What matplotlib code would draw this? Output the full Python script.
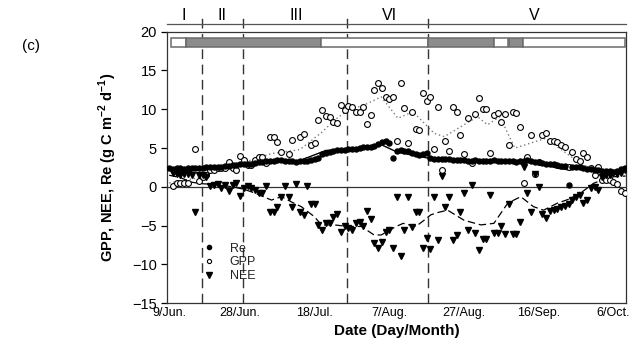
import numpy as np
import matplotlib
matplotlib.use('Agg')
import matplotlib.pyplot as plt
from matplotlib.lines import Line2D

plt.rcParams['font.family'] = ['Liberation Sans', 'DejaVu Sans']
plt.rcParams['mathtext.fontset'] = 'custom'
plt.rcParams['mathtext.rm'] = 'Liberation Sans'
plt.rcParams['mathtext.bf'] = 'Liberation Sans:bold'

nan = np.nan
# daily values, day 0 = 9 June
re_obs = [2.4, 2.3, 2.4, 2.4, 2.35, 2.4, 2.4, 2.45, 2.4, 2.45,
          2.5, 2.5, 2.55, 2.6, 2.6, 2.7, 2.75, 2.8, 2.85, 2.9,
          3.0, 2.95, 3.0, 3.1, 3.2, 3.15, 3.3, 3.3, 3.4, 3.45,
          3.5, 3.4, 3.35, 3.3, 3.25, 3.4, 3.3, 3.4, 3.5, 3.6,
          3.7, 4.3, 4.4, 4.5, 4.6, 4.7, 4.75, 4.8, 4.85, 4.9,
          4.9, 5.0, 5.1, 5.1, 5.2, 5.3, 5.5, 5.75, 5.85, 5.7,
          3.7, 4.6, 4.7, 4.65, 4.6, 4.4, 4.3, 4.15, 4.2, 4.4,
          3.7, 3.65, 3.6, 3.6, 3.55, 3.55, 3.5, 3.5, 3.5, 3.45,
          3.4, 3.4, 3.45, 3.4, 3.4, 3.35, 3.4, 3.45, 3.4, 3.4,
          3.35, 3.3, 3.3, 3.25, 3.3, 3.4, 3.45, 3.3, 3.2, 3.15,
          3.1, 3.0, 2.95, 2.9, 2.8, 2.7, 2.7, 0.25, 2.6, 2.55,
          2.5, 2.45, 2.35, 2.3, 2.2, 2.2, 2.1, 2.05, 2.0, 1.95,
          2.1, 2.3, 2.4]

gpp_obs = [nan, 0.1, 0.45, 0.5, 0.5, 0.55, nan, 4.85, 0.8, 1.3,
           1.5, 2.2, 2.2, 2.4, 2.4, 2.4, 3.25, 2.4, 2.2, 4.0,
           3.47, 2.8, 2.8, 3.47, 3.9, 3.9, 3.04, 6.47, 6.4, 5.8,
           4.5, nan, 4.3, 6.0, nan, 6.4, 6.8, 3.5, 5.4, 5.6,
           8.6, 9.9, 9.1, 9.05, 8.4, 8.2, 10.55, 9.9, 10.4, 10.3,
           9.7, 9.7, 10.3, 8.1, 9.3, 12.5, 13.35, 12.8, 11.6, 11.3,
           11.6, 5.95, 13.35, 10.2, 5.7, 9.6, 7.46, 7.3, 12.1, 11.1,
           11.6, 4.85, 10.3, 2.2, 5.95, 4.67, 10.3, 9.7, 6.7, 4.2,
           8.84, 3.1, 9.4, 11.45, 10.1, 10.0, 4.33, 9.27, 9.5, 8.3,
           9.4, 5.4, 9.7, 9.5, 7.76, 0.55, 3.8, 6.7, 1.7, 3.2,
           6.7, 6.9, 5.95, 5.9, 5.8, 5.35, 5.1, 2.6, 4.5, 3.55,
           3.4, 4.4, 3.9, 2.4, 1.53, 2.6, 0.9, 0.9, 0.9, 0.67,
           0.37, -0.53, -0.75]

nee_obs = [nan, 1.75, 1.6, 1.5, 1.7, 1.65, 1.5, -3.3, 1.5, 1.5,
           1.3, 0.1, 0.25, 0.37, -0.2, 0.25, -0.5, 0.25, 0.46, -1.2,
           -0.2, 0.1, -0.2, -0.4, -0.75, -0.75, 0.1, -3.3, -3.2, -2.55,
           -1.26, 0.1, -1.26, -2.55, 0.37, -3.2, -3.6, 0.1, -2.2, -2.2,
           -4.9, -5.6, -4.7, -4.7, -3.84, -3.5, -5.8, -5.1, -5.3, -5.55,
           -4.7, -4.5, -5.1, -3.07, -4.2, -7.2, -7.9, -7.06, -5.8, -5.55,
           -7.9, -1.26, -8.9, -5.6, -1.26, -5.2, -3.3, -3.3, -7.9, -6.6,
           -8.04, -1.26, -6.84, 1.45, -2.55, -1.26, -6.84, -6.2, -3.3, -0.8,
           -5.5, 0.25, -6.0, -8.1, -6.75, -6.7, -1.04, -5.9, -5.95, -5.04,
           -6.07, -2.2, -6.07, -6.07, -4.5, 2.6, -0.75, -3.3, 1.66, 0.0,
           -3.5, -4.05, -3.07, -3.0, -2.8, -2.55, -2.4, -2.2, -1.7, -1.26,
           -1.04, -2.1, -1.7, -0.2, 0.0, -0.4, 1.3, 1.53, 1.53, 1.75,
           1.6, 1.75, 2.18]

days = np.arange(len(re_obs))

# modelled curves
re_mod_day = [0, 5, 10, 15, 20, 25, 30, 34.5, 42, 46, 50, 54, 57, 61, 65, 69.5,
              75, 80, 85, 90, 95, 99, 101, 104, 107, 108.5, 112, 116, 120, 122.3]
re_mod = [2.35, 2.4, 2.5, 2.7, 2.95, 3.2, 3.4, 3.3, 4.7, 4.75, 4.9, 5.1, 5.4, 4.5, 4.1, 3.7,
          3.55, 3.45, 3.4, 3.35, 3.3, 3.1, 2.8, 2.4, 2.2, 2.55, 2.35, 2.15, 1.95, 2.0]

gpp_mod_day = [0, 8, 14, 18, 22, 27.5, 35, 40.8, 44.3, 47.9, 52, 56.8, 61.3, 65.3,
               71, 73.7, 82.6, 85.3, 88.6, 92.6, 100.9, 108.9, 114.2, 122.2]
gpp_mod = [0.5, 1.2, 2.3, 2.8, 3.47, 4.3, 4.8, 7.0, 8.6, 9.9, 10.5, 11.6, 8.84, 9.7,
           6.9, 6.47, 9.05, 8.0, 9.05, 5.0, 6.26, 3.47, 2.0, -0.8]

nee_mod_day = [0, 3, 6, 9, 13, 17, 20, 23, 27.4, 30.1, 33, 35.4, 38.9, 40.8, 44.3, 47.9,
               51.5, 54.9, 56.8, 60.8, 62.7, 66.1, 68.3, 70.1, 72, 74.6, 79, 83.5, 87,
               90.7, 94.2, 97.6, 100.3, 104, 107, 110.2, 113.7, 116, 119, 122.3]
nee_mod = [1.5, 1.2, 0.6, 0.4, 0.3, 0.0, -0.3, -0.8, -1.7, -1.26, -2.0, -2.55, -3.84, -4.9,
           -4.9, -5.1, -5.1, -6.2, -6.2, -5.1, -4.7, -5.1, -4.3, -3.6, -3.3, -3.0, -4.3,
           -4.9, -4.7, -2.1, -1.26, -2.55, -3.0, -2.1, -1.6, -0.8, 0.46, 0.9, 1.3, 1.4]

# periods
phase_bounds = [8.9, 19.7, 47.7, 69.4]
phase_names = ['I', 'II', 'III', 'VI', 'V']
phase_pos = [3.9, 14.1, 34.1, 59.0, 97.7]

# top status bar
seg_start = [0.5, 4.5, 40.6, 69.3, 87.0, 91.1, 94.9]
seg_end = [4.5, 40.6, 69.3, 87.0, 90.9, 94.9, 122.0]
seg_grey = [False, True, False, True, False, True, False]

tick_days = [0, 19, 39, 59, 79, 99, 119]
tick_labels = ['9/Jun.', '28/Jun.', '18/Jul.', '7/Aug.', '27/Aug.', '16/Sep.', '6/Oct.']

fig = plt.figure(figsize=(6.33, 3.4), dpi=100)
ax = fig.add_axes([0.2643, 0.108, 0.7247, 0.7988])
xmin, xmax = -0.5, 122.4

ax.axhline(0, color='#333333', lw=0.9, zorder=1)
for b in phase_bounds:
    ax.plot([b, b], [-15, 22.3], color='#333333', lw=1, dashes=(7, 4), clip_on=False, zorder=2)
ax.plot([xmin, xmax], [21, 21], color='#555555', lw=0.9, clip_on=False)
for name, p in zip(phase_names, phase_pos):
    ax.text(p, 22.1, name, ha='center', va='center', fontsize=11.5)

widths = np.array(seg_end) - np.array(seg_start)
ax.barh(18.6, widths, left=seg_start, height=1.2,
        color=['#8c8c8c' if g else 'white' for g in seg_grey],
        edgecolor='#6a6a6a', lw=1.1, zorder=6)

ax.plot(gpp_mod_day, gpp_mod, color='#7a7a7a', lw=1, ls=(0, (1, 2)), zorder=3)
ax.plot(nee_mod_day, nee_mod, color='black', lw=0.9, dashes=(6, 3), zorder=3)
ax.plot(re_mod_day, re_mod, color='black', lw=1, zorder=3)

ax.plot(days, gpp_obs, 'o', ms=4.2, mfc='white', mec='black', mew=0.8, zorder=4, label='GPP')
ax.plot(days, nee_obs, 'v', ms=4.6, color='black', zorder=4, label='NEE')
ax.plot(days, re_obs, 'o', ms=3.6, color='black', zorder=5, label='Re')

handles = [Line2D([], [], marker='o', ls='', ms=3, color='black'),
           Line2D([], [], marker='o', ls='', ms=3, mfc='white', mec='black', mew=0.8),
           Line2D([], [], marker='v', ls='', ms=4, color='black')]
ax.legend(handles, ['Re', 'GPP', 'NEE'], loc='lower left', bbox_to_anchor=(0.06, 0.045),
          frameon=False, fontsize=9, handlelength=0.8, handletextpad=1.3,
          labelspacing=0.15, borderpad=0.2, labelcolor='#222222')

ax.set_xlim(xmin, xmax)
ax.set_ylim(-15, 20)
ax.set_yticks(np.arange(-15, 21, 5))
ax.set_xticks(tick_days)
ax.set_xticklabels(tick_labels, fontsize=9)
ax.tick_params(axis='y', labelsize=10.5, length=4, width=0.9, direction='out')
ax.tick_params(axis='x', length=0, pad=3)
for s in ax.spines.values():
    s.set_linewidth(0.9)
    s.set_color('#333333')

ax.set_ylabel(r'GPP, NEE, Re (g C m$^{\mathbf{-2}}$ d$^{\mathbf{-1}}$)', fontsize=10.5, fontweight='bold')
ax.yaxis.set_label_coords(-0.105, 0.5)
ax.set_xlabel('Date (Day/Month)', fontsize=11, fontweight='bold')
ax.xaxis.set_label_coords(0.5, -0.075)
fig.text(0.035, 0.865, '(c)', fontsize=11, va='center')

fig.savefig('out.png', dpi=100)
